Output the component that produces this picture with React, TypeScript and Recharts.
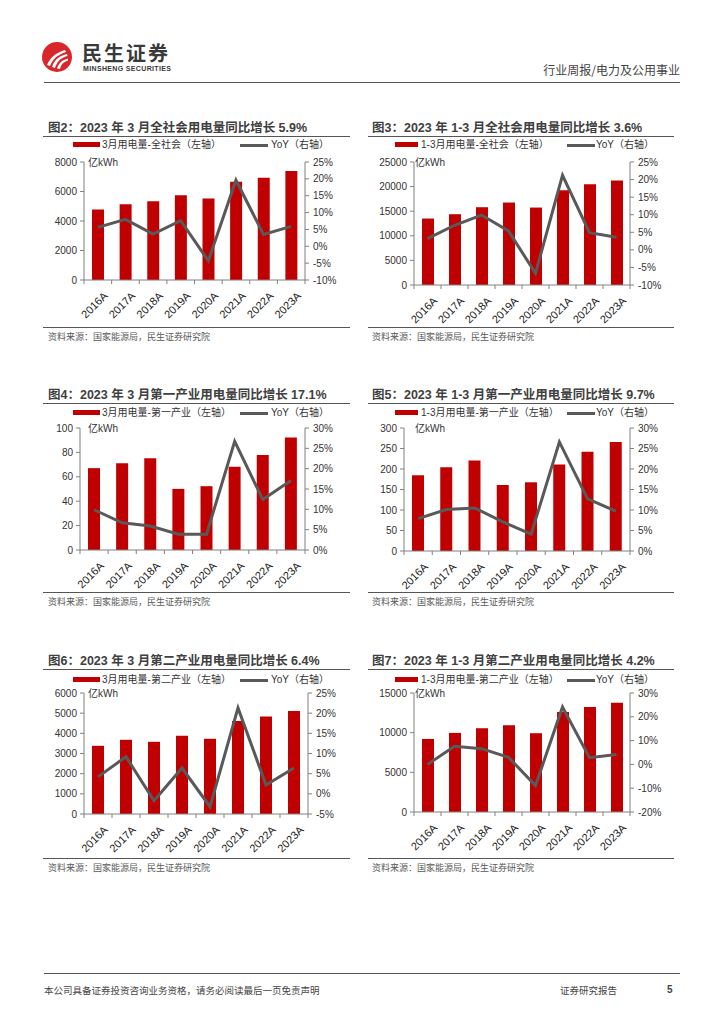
import React from "react";
import { ComposedChart, Bar, Line, XAxis, YAxis } from "recharts";

const years = ["2016A", "2017A", "2018A", "2019A", "2020A", "2021A", "2022A", "2023A"];

// 3月 全社会
const marTotal = [4780, 5140, 5340, 5750, 5520, 6660, 6940, 7390];
const marTotalYoY = [5.6, 8.0, 3.6, 7.6, -4.3, 19.6, 3.5, 5.9];
// 1-3月 全社会
const q1Total = [13510, 14390, 15810, 16760, 15740, 19250, 20470, 21220];
const q1TotalYoY = [3.2, 7.0, 9.9, 5.4, -6.7, 21.2, 4.9, 3.6];
// 3月 第一产业
const marPrimary = [67.1, 71.2, 75.3, 50.1, 52.3, 68.2, 77.8, 92.3];
const marPrimaryYoY = [9.9, 6.7, 5.9, 3.9, 3.9, 26.7, 12.4, 17.1];
// 1-3月 第一产业
const q1Primary = [184.7, 204.4, 220.7, 161, 167.6, 210.9, 242, 266];
const q1PrimaryYoY = [7.9, 10.1, 10.5, 7.1, 4.1, 26.6, 12.7, 9.7];
// 3月 第二产业
const marSecondary = [3380, 3680, 3580, 3880, 3730, 4610, 4840, 5105];
const marSecondaryYoY = [4.2, 9.2, -1.7, 6.4, -3.2, 21.3, 2.2, 6.4];
// 1-3月 第二产业
const q1Secondary = [9210, 9970, 10560, 10940, 9930, 12590, 13225, 13775];
const q1SecondaryYoY = [0, 7.6, 6.6, 3.0, -8.9, 24.1, 2.8, 4.2];

const ticksMarTotal = [0, 2000, 4000, 6000, 8000];
const ticksQ1Total = [0, 5000, 10000, 15000, 20000, 25000];
const ticksTotalYoY = [-10, -5, 0, 5, 10, 15, 20, 25];
const ticksMarPrimary = [0, 20, 40, 60, 80, 100];
const ticksQ1Primary = [0, 50, 100, 150, 200, 250, 300];
const ticksPrimaryYoY = [0, 5, 10, 15, 20, 25, 30];
const ticksMarSecondary = [0, 1000, 2000, 3000, 4000, 5000, 6000];
const ticksMarSecondaryYoY = [-5, 0, 5, 10, 15, 20, 25];
const ticksQ1Secondary = [0, 5000, 10000, 15000];
const ticksQ1SecondaryYoY = [-20, -10, 0, 10, 20, 30];

const FONT = "'Liberation Sans', 'Noto Sans CJK SC', sans-serif";
const CJK = "'Noto Sans CJK SC', sans-serif";
const RED = "#C00000";
const GRAY = "#595959";
const AXIS = "#808080";
const TEXT = "#333333";

interface PanelSpec {
	title: string;
	barName: string;
	bars: number[];
	yoy: number[];
	leftTicks: number[];
	rightTicks: number[];
	col: number;
	row: number;
	plotLeft: number;
	plotRight: number;
	plotTop: number;
	plotBottom: number;
}

const panels: PanelSpec[] = [
	{ title: "图2：2023 年 3 月全社会用电量同比增长 5.9%", barName: "3月用电量-全社会（左轴）", bars: marTotal, yoy: marTotalYoY, leftTicks: ticksMarTotal, rightTicks: ticksTotalYoY, col: 0, row: 0, plotLeft: 84, plotRight: 305, plotTop: 162, plotBottom: 280 },
	{ title: "图3：2023 年 1-3 月全社会用电量同比增长 3.6%", barName: "1-3月用电量-全社会（左轴）", bars: q1Total, yoy: q1TotalYoY, leftTicks: ticksQ1Total, rightTicks: ticksTotalYoY, col: 1, row: 0, plotLeft: 414, plotRight: 630, plotTop: 162, plotBottom: 285 },
	{ title: "图4：2023 年 3 月第一产业用电量同比增长 17.1%", barName: "3月用电量-第一产业（左轴）", bars: marPrimary, yoy: marPrimaryYoY, leftTicks: ticksMarPrimary, rightTicks: ticksPrimaryYoY, col: 0, row: 1, plotLeft: 80, plotRight: 305, plotTop: 428, plotBottom: 550 },
	{ title: "图5：2023 年 1-3 月第一产业用电量同比增长 9.7%", barName: "1-3月用电量-第一产业（左轴）", bars: q1Primary, yoy: q1PrimaryYoY, leftTicks: ticksQ1Primary, rightTicks: ticksPrimaryYoY, col: 1, row: 1, plotLeft: 404, plotRight: 630, plotTop: 428, plotBottom: 551 },
	{ title: "图6：2023 年 3 月第二产业用电量同比增长 6.4%", barName: "3月用电量-第二产业（左轴）", bars: marSecondary, yoy: marSecondaryYoY, leftTicks: ticksMarSecondary, rightTicks: ticksMarSecondaryYoY, col: 0, row: 2, plotLeft: 84, plotRight: 308, plotTop: 693, plotBottom: 814 },
	{ title: "图7：2023 年 1-3 月第二产业用电量同比增长 4.2%", barName: "1-3月用电量-第二产业（左轴）", bars: q1Secondary, yoy: q1SecondaryYoY, leftTicks: ticksQ1Secondary, rightTicks: ticksQ1SecondaryYoY, col: 1, row: 2, plotLeft: 414, plotRight: 630, plotTop: 693, plotBottom: 812 },
];

// row / column layout
const rowTitleY = [128, 395, 661];
const rowLegendY = [145, 413, 680];
const rowSourceLineY = [327, 592, 858];
const colX = [
	{ title: 48, line1: 43, line2: 350, rect: 73, rectW: 27, text: 102, yoyLine: 240, yoyText: 271, unit: 88 },
	{ title: 372, line1: 368, line2: 674, rect: 395, rectW: 23, text: 421, yoyLine: 567, yoyText: 596, unit: 415 },
];

const YearTick = (props: any) => {
	const { x, y, payload, index, half } = props;
	return (
		<g>
			<line x1={x - half} x2={x - half} y1={y} y2={y + 4} stroke={AXIS} />
			{index === years.length - 1 && <line x1={x + half} x2={x + half} y1={y} y2={y + 4} stroke={AXIS} />}
			<g transform={`translate(${x + 5},${y + 11})`}>
				<text
					textAnchor="end"
					transform="rotate(-45)"
					fontSize={11}
					fill="#222"
					fontFamily={FONT}
					dy="0.71em">
					{payload.value}
				</text>
			</g>
		</g>
	);
};

const LW = 40;
const RW = 46;
const MT = 8;
const XH = 46;

function Panel({ p }: { p: PanelSpec }) {
	const data = years.map((year, i) => ({ year, value: p.bars[i], yoy: p.yoy[i] }));
	const c = colX[p.col];
	const pw = p.plotRight - p.plotLeft;
	const ph = p.plotBottom - p.plotTop;
	const half = pw / years.length / 2;
	const lMin = p.leftTicks[0];
	const lMax = p.leftTicks[p.leftTicks.length - 1];
	const rMin = p.rightTicks[0];
	const rMax = p.rightTicks[p.rightTicks.length - 1];
	const ty = rowTitleY[p.row];
	const ly = rowLegendY[p.row];
	const sy = rowSourceLineY[p.row];
	return (
		<>
			<div style={{ position: "absolute", left: c.title, top: ty - 9, fontSize: 12.5, fontWeight: "bold", color: "#404040", whiteSpace: "nowrap", lineHeight: "18px", fontFamily: FONT }}>
				{p.title}
			</div>
			<div style={{ position: "absolute", left: c.line1, top: ty + 8, width: c.line2 - c.line1, height: 1, background: "#555" }} />
			<div style={{ position: "absolute", left: c.rect, top: ly - 3, width: c.rectW, height: 5, background: RED }} />
			<div style={{ position: "absolute", left: c.text, top: ly - 8, fontSize: 10, lineHeight: "16px", color: TEXT, whiteSpace: "nowrap", fontFamily: FONT }}>
				{p.barName}
			</div>
			<div style={{ position: "absolute", left: c.yoyLine, top: ly - 1.5, width: 28, height: 3, background: GRAY }} />
			<div style={{ position: "absolute", left: c.yoyText, top: ly - 8, fontSize: 10, lineHeight: "16px", color: TEXT, whiteSpace: "nowrap", fontFamily: FONT }}>
				YoY（右轴）
			</div>
			<div style={{ position: "absolute", left: p.plotLeft - LW, top: p.plotTop - MT }}>
				<ComposedChart
					width={pw + LW + RW}
					height={ph + MT + XH}
					data={data}
					margin={{ top: MT, right: 0, bottom: 0, left: 0 }}>
					<XAxis
						dataKey="year"
						interval={0}
						tickLine={false}
						tickSize={0}
						tickMargin={0}
						axisLine={{ stroke: AXIS }}
						height={XH}
						tick={(props: any) => <YearTick {...props} half={half} />}
					/>
					<YAxis
						yAxisId="left"
						orientation="left"
						width={LW}
						domain={[lMin, lMax]}
						ticks={p.leftTicks}
						interval={0}
						tickSize={4}
						tickMargin={3}
						axisLine={{ stroke: AXIS }}
						tickLine={{ stroke: AXIS }}
						tick={{ fontSize: 10, fill: TEXT, fontFamily: FONT }}
					/>
					<YAxis
						yAxisId="right"
						orientation="right"
						width={RW}
						domain={[rMin, rMax]}
						ticks={p.rightTicks}
						interval={0}
						tickSize={4}
						tickMargin={4}
						axisLine={{ stroke: AXIS }}
						tickLine={{ stroke: AXIS }}
						tickFormatter={(v: number) => `${v}%`}
						tick={{ fontSize: 10, fill: TEXT, fontFamily: FONT, textAnchor: "start" }}
					/>
					<Bar yAxisId="left" dataKey="value" fill={RED} barSize={12} isAnimationActive={false} />
					<Line yAxisId="right" type="linear" dataKey="yoy" stroke={GRAY} strokeWidth={3} dot={false} isAnimationActive={false} />
				</ComposedChart>
			</div>
			<div style={{ position: "absolute", left: c.unit, top: p.plotTop - 5, fontSize: 10, lineHeight: "12px", color: TEXT, fontFamily: FONT }}>
				亿kWh
			</div>
			<div style={{ position: "absolute", left: c.line1, top: sy, width: c.line2 - c.line1, height: 1, background: "#555" }} />
			<div style={{ position: "absolute", left: c.title, top: sy + 3, fontSize: 9, lineHeight: "14px", color: GRAY, whiteSpace: "nowrap", fontFamily: CJK }}>
				资料来源：国家能源局，民生证券研究院
			</div>
		</>
	);
}

function Logo() {
	return (
		<svg width={32} height={32} viewBox="0 0 32 32" style={{ position: "absolute", left: 41, top: 41 }}>
			<circle cx={16} cy={16} r={15} fill="#D9262A" />
			<path d="M6 24 C9 17, 14 12, 24 9 L25 11 C16 14, 12 18, 9 25 Z" fill="#fff" />
			<path d="M11 26 C13 20, 17 15, 26 13 L26.5 15 C19 17, 16 21, 14 27 Z" fill="#fff" />
			<path d="M16 27.5 C18 22, 21 19, 27 17.5 L27 19.5 C22 21, 20 24, 19 28 Z" fill="#fff" />
		</svg>
	);
}

export default function App() {
	return (
		<div style={{ position: "absolute", left: 0, top: 0, width: 724, height: 1024, background: "#fff", fontFamily: FONT, overflow: "hidden" }}>
			<Logo />
			<div style={{ position: "absolute", left: 82, top: 41, fontSize: 20, fontWeight: "bold", color: "#3a3a3a", letterSpacing: 2, lineHeight: "24px", fontFamily: CJK }}>
				民生证券
			</div>
			<div style={{ position: "absolute", left: 83, top: 65, fontSize: 7, fontWeight: "bold", color: "#3a3a3a", lineHeight: "8px", whiteSpace: "nowrap", letterSpacing: 0.35 }}>
				MINSHENG SECURITIES
			</div>
			<div style={{ position: "absolute", right: 44, top: 62, fontSize: 12, color: "#444", lineHeight: "16px", fontFamily: CJK }}>
				行业周报/电力及公用事业
			</div>
			<div style={{ position: "absolute", left: 44, top: 82, width: 636, height: 1, background: "#555" }} />

			{panels.map((p, i) => (
				<Panel key={i} p={p} />
			))}

			<div style={{ position: "absolute", left: 44, top: 973, width: 636, height: 1, background: "#555" }} />
			<div style={{ position: "absolute", left: 44, top: 983, fontSize: 9.5, color: "#444", lineHeight: "14px", fontFamily: CJK, whiteSpace: "nowrap" }}>
				本公司具备证券投资咨询业务资格，请务必阅读最后一页免责声明
			</div>
			<div style={{ position: "absolute", left: 560, top: 983, fontSize: 9.5, color: "#444", lineHeight: "14px", fontFamily: CJK }}>
				证券研究报告
			</div>
			<div style={{ position: "absolute", left: 667, top: 983, fontSize: 10, fontWeight: "bold", color: "#444", lineHeight: "14px" }}>
				5
			</div>
		</div>
	);
}
